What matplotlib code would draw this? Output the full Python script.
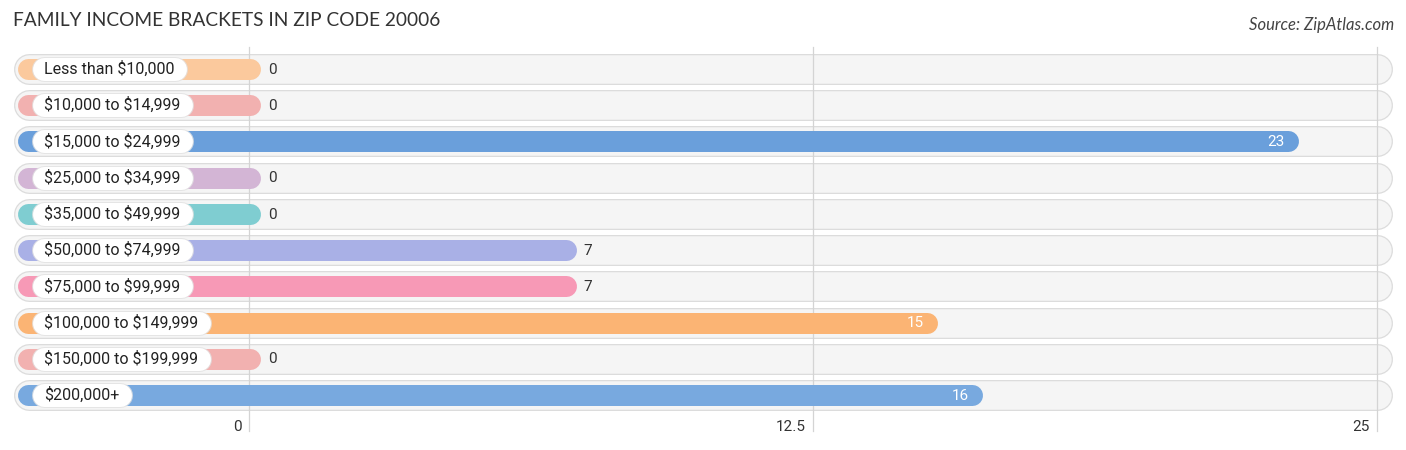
import numpy as np
import matplotlib.pyplot as plt

plt.rcParams['text.parse_math'] = False

categories = ['Less than $10,000', '$10,000 to $14,999', '$15,000 to $24,999',
              '$25,000 to $34,999', '$35,000 to $49,999', '$50,000 to $74,999',
              '$75,000 to $99,999', '$100,000 to $149,999', '$150,000 to $199,999',
              '$200,000+']
values = [0, 0, 23, 0, 0, 7, 7, 15, 0, 16]
colors = ['#fbc99d', '#f2b1b0', '#6a9fdb', '#d3b5d5', '#7fcdd1', '#a9b0e6',
          '#f799b6', '#fbb474', '#f2b1b0', '#78a9df']
ticks = [0, 12.5, 25]
tick_labels = ['0', '12.5', '25']

W, H = 1406, 450
x0pix, pxu = 249, 45.12       # pixel of value 0, pixels per unit
y0pix, rowpx = 69, 36.22       # pixel of first row, row spacing

def px(p):                     # pixel -> data x
    return (p - x0pix) / pxu

fig = plt.figure(figsize=(W / 100, H / 100), dpi=100)
ax = fig.add_axes([0, 0, 1, 1])
ax.set_xlim(px(0), px(W))
ax.set_ylim((H - y0pix) / rowpx, -y0pix / rowpx)
ax.axis('off')

pt = 72 / 100  # points per pixel
renderer = fig.canvas.get_renderer()

for i, (cat, v, c) in enumerate(zip(categories, values, colors)):
    # background pill with soft border
    ax.plot([px(14 + 15), px(1392 - 15)], [i, i], color='#dcdcdc', lw=31 * pt,
            solid_capstyle='round', zorder=1)
    ax.plot([px(14 + 15), px(1392 - 15)], [i, i], color='#f5f5f5', lw=28.5 * pt,
            solid_capstyle='round', zorder=1.1)
    # bar
    ax.plot([px(18 + 10), v + px(x0pix + 1)], [i, i], color=c, lw=21 * pt,
            solid_capstyle='round', zorder=3)
    # category label with white pill
    t = ax.text(px(44), i, cat, ha='left', va='center', fontsize=11.5, family='Roboto',
                color='#222222', zorder=6)
    bb = t.get_window_extent(renderer)
    x_end = bb.x1 + 12
    ax.plot([px(32 + 11.5), px(x_end - 11.5)], [i, i], color='#e2e2e2', lw=25 * pt,
            solid_capstyle='round', zorder=4, alpha=0.8)
    ax.plot([px(32 + 11.5), px(x_end - 11.5)], [i, i], color='white', lw=23 * pt,
            solid_capstyle='round', zorder=5)
    # value label
    if v >= 10:
        ax.text(v + px(x0pix - 2), i + 0.02, str(v), ha='right', va='center', fontsize=11,
                family='Roboto', color='white', zorder=5)
    else:
        ax.text(v + px(x0pix + 19), i + 0.02, str(v), ha='left', va='center', fontsize=11,
                family='Roboto', color='#333333', zorder=5)

for t, lab in zip(ticks, tick_labels):
    ax.plot([t, t], [-0.6, 10.0], color='#d4d4d4', lw=0.9, zorder=2)
    ax.text(t - 7 / pxu, (427 - y0pix) / rowpx, lab, ha='right', va='center',
            fontsize=11, family='Roboto', color='#333333')

fig.text(13 / W, 1 - 21 / H, 'FAMILY INCOME BRACKETS IN ZIP CODE 20006', ha='left',
         va='center', fontsize=13.8, family='Lato', color='#333333')
fig.text(1 - 12 / W, 1 - 25 / H, 'Source: ZipAtlas.com', ha='right', va='center',
         fontsize=12, family='Lato', style='italic', color='#444444')

fig.savefig('out.png', dpi=100)
